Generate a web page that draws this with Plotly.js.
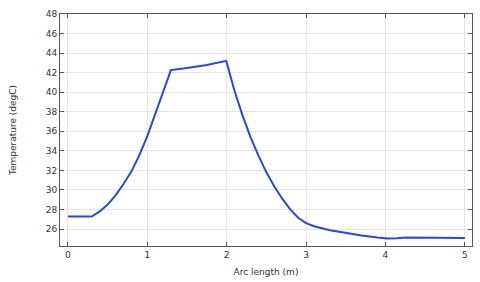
<!DOCTYPE html>
<html>
<head>
<meta charset="utf-8">
<script src="https://cdn.plot.ly/plotly-3.0.1.min.js"></script>
<style>html,body{margin:0;padding:0;background:#fff;}#chart{width:480px;height:282px;}</style>
</head>
<body>
<div id="chart"></div>
<script>
const arcLength = [0, 0.30, 0.40, 0.50, 0.60, 0.70, 0.80, 0.90, 1.00, 1.10, 1.20, 1.297, 1.50, 1.75, 1.994, 2.10, 2.20, 2.30, 2.40, 2.50, 2.60, 2.70, 2.80, 2.90, 3.00, 3.10, 3.30, 3.50, 3.70, 3.90, 4.02, 4.14, 4.27, 4.60, 5.00];
const temperature = [27.28, 27.28, 27.80, 28.50, 29.45, 30.60, 31.90, 33.55, 35.50, 37.80, 40.10, 42.26, 42.48, 42.78, 43.21, 40.10, 37.60, 35.40, 33.50, 31.80, 30.35, 29.10, 28.00, 27.15, 26.60, 26.28, 25.87, 25.58, 25.33, 25.13, 25.04, 25.06, 25.12, 25.10, 25.08];
const xTicks = [0, 1, 2, 3, 4, 5];
const yTicks = [26, 28, 30, 32, 34, 36, 38, 40, 42, 44, 46, 48];

const font = {family: 'DejaVu Sans, sans-serif', size: 9, color: '#333'};
const axisCommon = {
  showgrid: true, gridcolor: '#e4e4e4', gridwidth: 1,
  showline: true, linecolor: '#555', linewidth: 1, mirror: 'ticks',
  ticks: 'inside', ticklen: 4, tickcolor: '#555',
  zeroline: false, tickfont: font
};
Plotly.newPlot('chart', [{
  x: arcLength, y: temperature, type: 'scatter', mode: 'lines',
  line: {color: '#2b46e0', width: 2}
}], {
  width: 480, height: 282,
  margin: {l: 60, r: 8, t: 14, b: 36},
  paper_bgcolor: '#fff', plot_bgcolor: '#fff',
  showlegend: false,
  xaxis: Object.assign({}, axisCommon, {
    range: [-0.1, 5.09], tickvals: xTicks,
    title: {text: 'Arc length (m)', font: font, standoff: 9}
  }),
  yaxis: Object.assign({}, axisCommon, {
    range: [24.26, 48], tickvals: yTicks,
    title: {text: 'Temperature (degC)', font: font, standoff: 27}
  })
}, {staticPlot: true});
</script>
</body>
</html>
